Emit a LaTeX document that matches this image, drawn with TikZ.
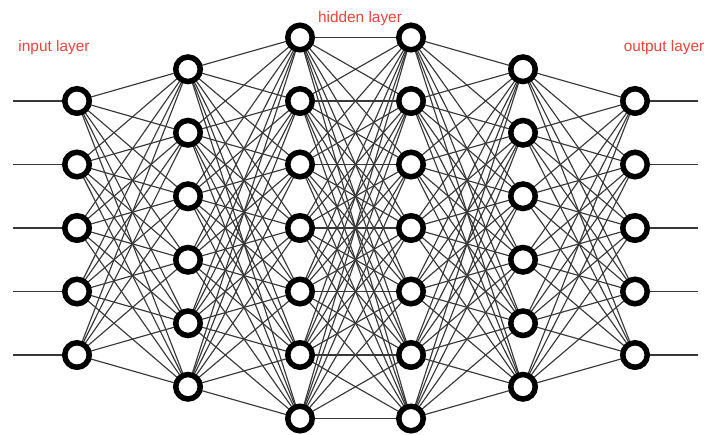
\documentclass[tikz,border=0pt]{standalone}
\usepackage{fontspec}
\setmainfont{Liberation Sans}
\usetikzlibrary{backgrounds}
\definecolor{lblred}{HTML}{E8453C}
\definecolor{edgegray}{HTML}{383838}
\tikzset{
  neuron/.style={circle, draw=black, fill=white, line width=5.5pt, minimum size=24.5pt, inner sep=0pt},
  wire/.style={draw=edgegray, line width=1.15pt},
  lbl/.style={text=lblred, font=\fontsize{15.4}{18}\selectfont, inner sep=0pt}
}
\begin{document}
\begin{tikzpicture}[x=1pt,y=-1pt]
\useasboundingbox (0,0) rectangle (704,434);
\def\ysp{63.5}
\foreach \L/\x/\n in {1/77/5, 2/188/6, 3/300/7, 4/411/7, 5/523/6, 6/635/5} {
  \foreach \i in {1,...,\n} {
    \pgfmathsetmacro{\yy}{228 + (\i - (\n+1)/2)*\ysp}
    \node[neuron] (n\L-\i) at (\x,\yy) {};
  }
}
\begin{scope}[on background layer]
  \foreach \i in {1,...,5} {
    \coordinate (in\i) at (13, {228 + (\i-3)*\ysp});
    \coordinate (out\i) at (698, {228 + (\i-3)*\ysp});
    \draw[wire] (in\i) -- (n1-\i);
    \draw[wire] (n6-\i) -- (out\i);
  }
  \foreach \A/\na/\B/\nb in {1/5/2/6, 2/6/3/7, 3/7/4/7, 4/7/5/6, 5/6/6/5} {
    \foreach \i in {1,...,\na} {
      \foreach \j in {1,...,\nb} {
        \draw[wire] (n\A-\i.center) -- (n\B-\j.center);
      }
    }
  }
\end{scope}
\node[lbl] (tin) at (54,48) {input layer};
\node[lbl] (thid) at (360,19) {hidden layer};
\node[lbl] (tout) at (664,48) {output layer};
\end{tikzpicture}
\end{document}
